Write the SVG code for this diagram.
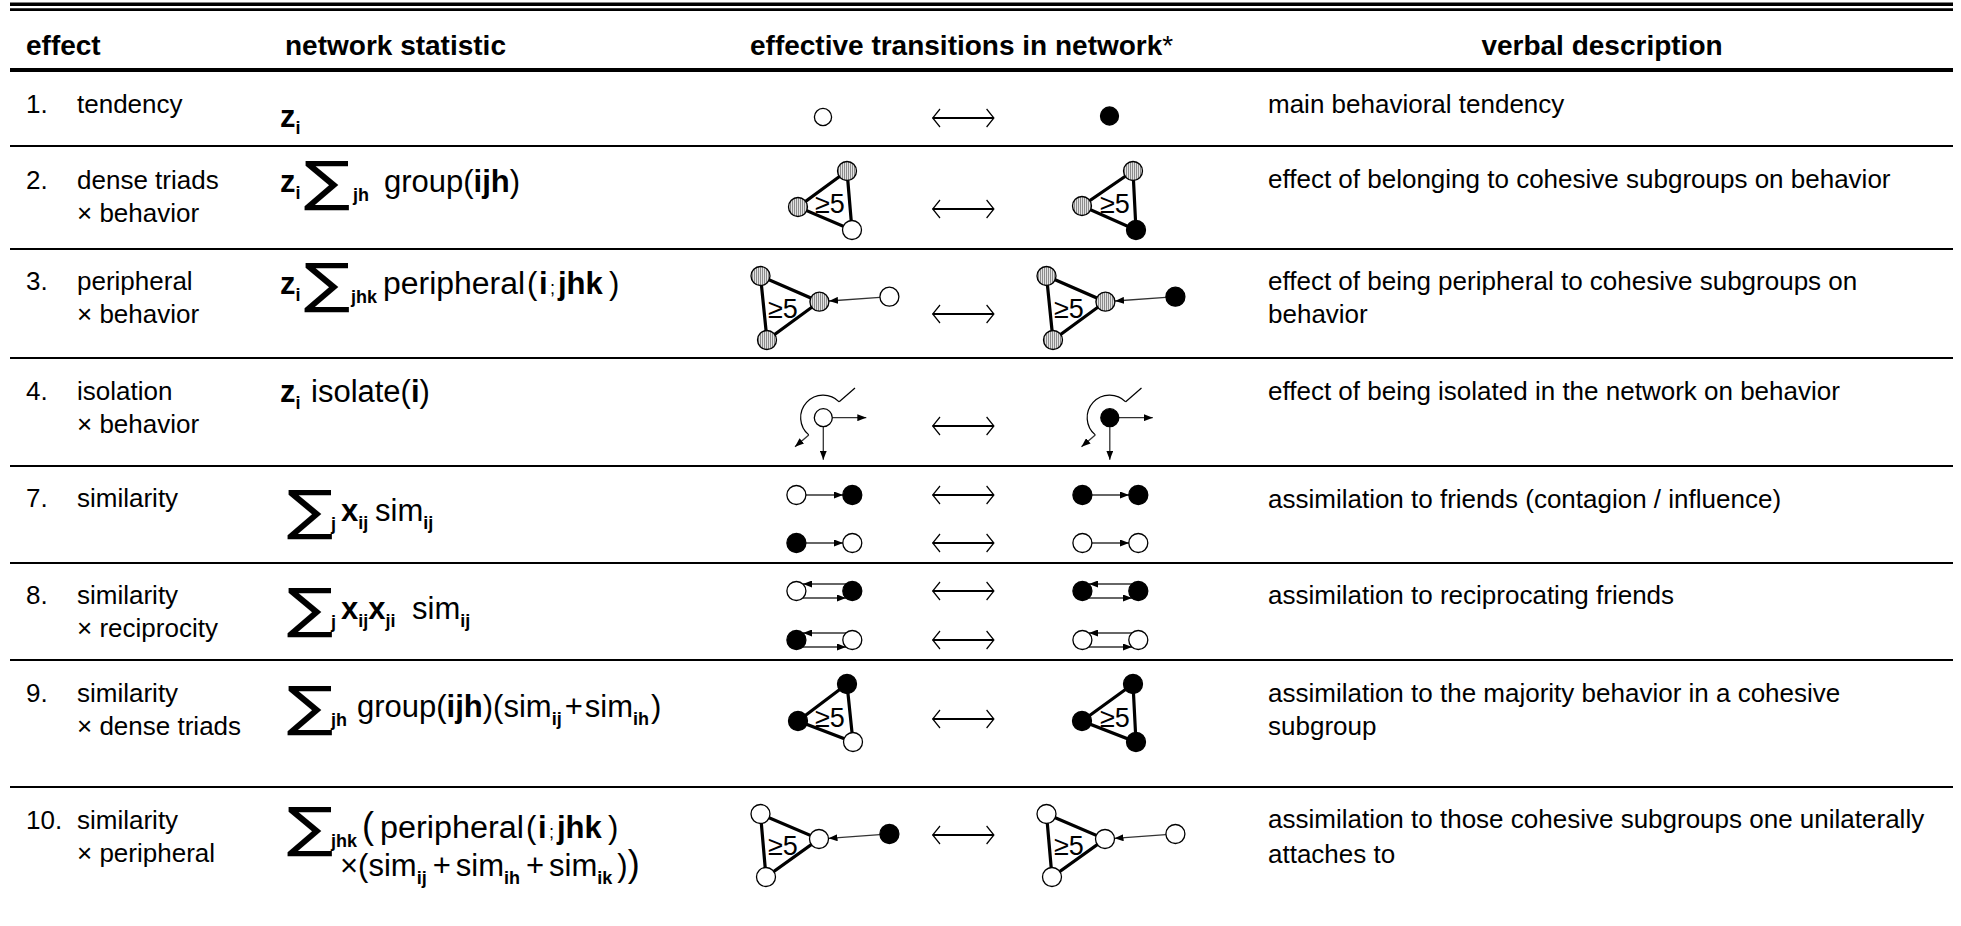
<svg xmlns="http://www.w3.org/2000/svg" width="1961" height="926" viewBox="0 0 1961 926">
<style>
text{font-family:"Liberation Sans",Arial,sans-serif;fill:#000}
.t{font-size:26px}
.h{font-size:28px;font-weight:bold}
.f{font-size:31px}
.b{font-weight:bold}
.sub{font-size:18px;font-weight:bold}
.sig{font-size:54px;font-family:"DejaVu Sans",sans-serif}
.g5{font-size:27px}
.rule{stroke:#000;stroke-width:2}
.tri{stroke:#000;stroke-width:3.2;fill:none}
.nd{stroke:#000;stroke-width:1.3}
.w{fill:#fff}
.k{fill:#000}
.hh{fill:url(#hatch)}
.ar{stroke:#333;stroke-width:1.3;fill:none;marker-end:url(#ah)}
.thin{stroke:#000;stroke-width:1.2;fill:none}
</style>
<defs>
<pattern id="hatch" width="2" height="2" patternUnits="userSpaceOnUse"><rect width="2" height="2" fill="#e2e2e2"/><rect width="1" height="2" fill="#8c8c8c"/></pattern>
<marker id="ah" markerWidth="9" markerHeight="7" refX="9" refY="3.5" orient="auto" markerUnits="userSpaceOnUse"><path d="M0,0 L9,3.5 L0,7 z" fill="#000"/></marker>
<g id="dbl"><line x1="-30.6" y1="0" x2="30.6" y2="0" stroke="#000" stroke-width="1.8"/><polyline points="-23.3,-9 -30.6,0 -23.3,9" class="thin"/><polyline points="23.3,-9 30.6,0 23.3,9" class="thin"/></g>
<g id="iso"><path d="M15.9,-15.9 A22.5,22.5 0 1 0 -14.5,17.2" class="thin"/><line x1="-14.5" y1="17.2" x2="-28.3" y2="29" class="ar"/><line x1="15.9" y1="-15.9" x2="31.7" y2="-29.7" class="thin"/><line x1="9" y1="0" x2="43" y2="0" class="ar"/><line x1="0" y1="9" x2="0" y2="42" class="ar"/></g>
</defs>
<rect width="1961" height="926" fill="#fff"/>
<g id="rules">
<line x1="10" y1="4.3" x2="1953" y2="4.3" stroke="#000" stroke-width="3.4"/>
<line x1="10" y1="9.6" x2="1953" y2="9.6" stroke="#000" stroke-width="2.6"/>
<line x1="10" y1="70" x2="1953" y2="70" stroke="#000" stroke-width="4"/>
<line x1="10" y1="146" x2="1953" y2="146" class="rule"/>
<line x1="10" y1="249" x2="1953" y2="249" class="rule"/>
<line x1="10" y1="358" x2="1953" y2="358" class="rule"/>
<line x1="10" y1="466" x2="1953" y2="466" class="rule"/>
<line x1="10" y1="563" x2="1953" y2="563" class="rule"/>
<line x1="10" y1="660" x2="1953" y2="660" class="rule"/>
<line x1="10" y1="787" x2="1953" y2="787" class="rule"/>
</g>
<g id="header">
<text class="h" x="26" y="55">effect</text>
<text class="h" x="285" y="55">network statistic</text>
<text class="h" x="750" y="55">effective transitions in network<tspan font-weight="normal">*</tspan></text>
<text class="h" x="1602" y="55" text-anchor="middle">verbal description</text>
</g>
<g id="effects">
<text class="t" x="26" y="113">1.</text><text class="t" x="77" y="113">tendency</text>
<text class="t" x="26" y="189">2.</text><text class="t" x="77" y="189">dense triads</text><text class="t" x="77" y="222">× behavior</text>
<text class="t" x="26" y="290">3.</text><text class="t" x="77" y="290">peripheral</text><text class="t" x="77" y="323">× behavior</text>
<text class="t" x="26" y="400">4.</text><text class="t" x="77" y="400">isolation</text><text class="t" x="77" y="433">× behavior</text>
<text class="t" x="26" y="507">7.</text><text class="t" x="77" y="507">similarity</text>
<text class="t" x="26" y="604">8.</text><text class="t" x="77" y="604">similarity</text><text class="t" x="77" y="637">× reciprocity</text>
<text class="t" x="26" y="702">9.</text><text class="t" x="77" y="702">similarity</text><text class="t" x="77" y="735">× dense triads</text>
<text class="t" x="26" y="829">10.</text><text class="t" x="77" y="829">similarity</text><text class="t" x="77" y="862">× peripheral</text>
</g>
<g id="statistics">
<text class="f" y="127"><tspan x="280" class="b">z</tspan><tspan class="sub" dy="7">i</tspan></text>

<text class="f" y="192"><tspan x="280" class="b">z</tspan><tspan class="sub" dy="7">i</tspan><tspan class="sub" x="353" dy="2">jh</tspan><tspan x="384" dy="-9">group(</tspan><tspan class="b">ijh</tspan><tspan>)</tspan></text>
<text class="sig" transform="translate(304,200) scale(1.28,1)">∑</text>

<text class="f" y="294"><tspan x="280" class="b">z</tspan><tspan class="sub" dy="7">i</tspan><tspan class="sub" x="351" dy="2">jhk</tspan><tspan x="383" dy="-9" textLength="142" lengthAdjust="spacingAndGlyphs">peripheral</tspan><tspan x="527">(</tspan><tspan class="b" x="539">i</tspan><tspan font-size="18" x="550">;</tspan><tspan class="b" x="558">jhk</tspan><tspan x="609">)</tspan></text>
<text class="sig" transform="translate(304,302) scale(1.28,1)">∑</text>

<text class="f" y="402"><tspan x="280" class="b">z</tspan><tspan class="sub" dy="7">i</tspan><tspan x="311" dy="-7">isolate(</tspan><tspan class="b">i</tspan><tspan>)</tspan></text>

<text class="f" y="521"><tspan class="sub" x="331" dy="9">j</tspan><tspan class="b" x="341" dy="-9">x</tspan><tspan class="sub" dy="8">ij</tspan><tspan x="375" dy="-8">sim</tspan><tspan class="sub" dy="8">ij</tspan></text>
<text class="sig" transform="translate(287,529) scale(1.28,1)">∑</text>

<text class="f" y="619"><tspan class="sub" x="331" dy="9">j</tspan><tspan class="b" x="341" dy="-9">x</tspan><tspan class="sub" dy="8">ij</tspan><tspan class="b" dy="-8">x</tspan><tspan class="sub" dy="8">ji</tspan><tspan x="412" dy="-8">sim</tspan><tspan class="sub" dy="8">ij</tspan></text>
<text class="sig" transform="translate(287,627) scale(1.28,1)">∑</text>

<text class="f" y="717"><tspan class="sub" x="331" dy="9">jh</tspan><tspan x="357" dy="-9">group(</tspan><tspan class="b">ijh</tspan><tspan>)(sim</tspan><tspan class="sub" dy="8">ij</tspan><tspan dx="3" dy="-8">+</tspan><tspan dx="2">sim</tspan><tspan class="sub" dy="8">ih</tspan><tspan dx="2" dy="-8">)</tspan></text>
<text class="sig" transform="translate(287,725) scale(1.28,1)">∑</text>

<text class="f" y="838"><tspan class="sub" x="331" dy="9">jhk</tspan><tspan x="362" dy="-9" font-size="36">(</tspan><tspan x="380" textLength="144" lengthAdjust="spacingAndGlyphs">peripheral</tspan><tspan x="526">(</tspan><tspan class="b" x="538">i</tspan><tspan font-size="18" x="549">;</tspan><tspan class="b" x="557">jhk</tspan><tspan x="608">)</tspan></text>
<text class="sig" transform="translate(287,846) scale(1.28,1)">∑</text>
<text class="f" y="876"><tspan x="340">×</tspan><tspan>(sim</tspan><tspan class="sub" dy="8">ij</tspan><tspan dx="6" dy="-8">+</tspan><tspan dx="5">sim</tspan><tspan class="sub" dy="8">ih</tspan><tspan dx="6" dy="-8">+</tspan><tspan dx="5">sim</tspan><tspan class="sub" dy="8">ik</tspan><tspan dx="5" dy="-8">)</tspan><tspan font-size="36">)</tspan></text>
</g>
<g id="connectors">
<use href="#dbl" x="963.3" y="118"/>
<use href="#dbl" x="963.3" y="209"/>
<use href="#dbl" x="963.3" y="314"/>
<use href="#dbl" x="963.3" y="426"/>
<use href="#dbl" x="963.3" y="495"/>
<use href="#dbl" x="963.3" y="543"/>
<use href="#dbl" x="963.3" y="591"/>
<use href="#dbl" x="963.3" y="640"/>
<use href="#dbl" x="963.3" y="719"/>
<use href="#dbl" x="963.3" y="835"/>
</g>
<g id="r1-left"><circle cx="823" cy="117" r="8.6" class="nd w"/></g>
<g id="r1-right"><circle cx="1109.5" cy="116" r="9" class="nd k"/></g>
<g id="r2-left">
<polygon points="847,171 798,207 852,230" class="tri"/>
<circle cx="847" cy="171" r="9.5" class="nd hh"/><circle cx="798" cy="207" r="9.5" class="nd hh"/><circle cx="852" cy="230" r="9.5" class="nd w"/>
<text class="g5" x="815" y="213">≥5</text>
</g>
<g id="r2-right">
<polygon points="1133,171 1082,206 1136,230" class="tri"/>
<circle cx="1133" cy="171" r="9.5" class="nd hh"/><circle cx="1082" cy="206" r="9.5" class="nd hh"/><circle cx="1136" cy="230" r="9.5" class="nd k"/>
<text class="g5" x="1100" y="213">≥5</text>
</g>
<g id="r3-left">
<polygon points="760.5,276 819.4,301.7 767,340" class="tri"/>
<line x1="879.9" y1="297.4" x2="829" y2="301" class="ar"/>
<circle cx="760.5" cy="276" r="9.5" class="nd hh"/><circle cx="819.4" cy="301.7" r="9.5" class="nd hh"/><circle cx="767" cy="340" r="9.5" class="nd hh"/><circle cx="889.4" cy="296.7" r="9.5" class="nd w"/>
<text class="g5" x="768" y="318">≥5</text>
</g>
<g id="r3-right">
<polygon points="1046.5,276 1105.4,301.7 1053,340" class="tri"/>
<line x1="1165.9" y1="297.4" x2="1115" y2="301" class="ar"/>
<circle cx="1046.5" cy="276" r="9.5" class="nd hh"/><circle cx="1105.4" cy="301.7" r="9.5" class="nd hh"/><circle cx="1053" cy="340" r="9.5" class="nd hh"/><circle cx="1175.4" cy="296.7" r="9.5" class="nd k"/>
<text class="g5" x="1054" y="318">≥5</text>
</g>
<g id="r4-left"><use href="#iso" x="823.3" y="417.7"/><circle cx="823.3" cy="417.7" r="9" class="nd w"/></g>
<g id="r4-right"><use href="#iso" x="1109.8" y="417.7"/><circle cx="1109.8" cy="417.7" r="9" class="nd k"/></g>
<g id="r7-left">
<line x1="805.7" y1="495" x2="843" y2="495" class="ar"/><circle cx="796.4" cy="495" r="9.5" class="nd w"/><circle cx="852.3" cy="495" r="9.5" class="nd k"/>
<line x1="805.7" y1="543" x2="843" y2="543" class="ar"/><circle cx="796.4" cy="543" r="9.5" class="nd k"/><circle cx="852.3" cy="543" r="9.5" class="nd w"/>
</g>
<g id="r7-right">
<line x1="1091.7" y1="495" x2="1129" y2="495" class="ar"/><circle cx="1082.4" cy="495" r="9.5" class="nd k"/><circle cx="1138.3" cy="495" r="9.5" class="nd k"/>
<line x1="1091.7" y1="543" x2="1129" y2="543" class="ar"/><circle cx="1082.4" cy="543" r="9.5" class="nd w"/><circle cx="1138.3" cy="543" r="9.5" class="nd w"/>
</g>
<g id="r8-left">
<line x1="846" y1="584" x2="803" y2="584" class="ar"/><line x1="803" y1="598" x2="846" y2="598" class="ar"/><circle cx="796.4" cy="591" r="9.5" class="nd w"/><circle cx="852.3" cy="591" r="9.5" class="nd k"/>
<line x1="846" y1="633" x2="803" y2="633" class="ar"/><line x1="803" y1="647" x2="846" y2="647" class="ar"/><circle cx="796.4" cy="640" r="9.5" class="nd k"/><circle cx="852.3" cy="640" r="9.5" class="nd w"/>
</g>
<g id="r8-right">
<line x1="1132" y1="584" x2="1089" y2="584" class="ar"/><line x1="1089" y1="598" x2="1132" y2="598" class="ar"/><circle cx="1082.4" cy="591" r="9.5" class="nd k"/><circle cx="1138.3" cy="591" r="9.5" class="nd k"/>
<line x1="1132" y1="633" x2="1089" y2="633" class="ar"/><line x1="1089" y1="647" x2="1132" y2="647" class="ar"/><circle cx="1082.4" cy="640" r="9.5" class="nd w"/><circle cx="1138.3" cy="640" r="9.5" class="nd w"/>
</g>
<g id="r9-left">
<polygon points="847,684 798,721 853,742" class="tri"/>
<circle cx="847" cy="684" r="9.5" class="nd k"/><circle cx="798" cy="721" r="9.5" class="nd k"/><circle cx="853" cy="742" r="9.5" class="nd w"/>
<text class="g5" x="815" y="727">≥5</text>
</g>
<g id="r9-right">
<polygon points="1133,684 1082,721 1136,742" class="tri"/>
<circle cx="1133" cy="684" r="9.5" class="nd k"/><circle cx="1082" cy="721" r="9.5" class="nd k"/><circle cx="1136" cy="742" r="9.5" class="nd k"/>
<text class="g5" x="1100" y="727">≥5</text>
</g>
<g id="r10-left">
<polygon points="760.5,814 819,839 766,877" class="tri"/>
<line x1="879.9" y1="834.7" x2="828.5" y2="838.3" class="ar"/>
<circle cx="760.5" cy="814" r="9.5" class="nd w"/><circle cx="819" cy="839" r="9.5" class="nd w"/><circle cx="766" cy="877" r="9.5" class="nd w"/><circle cx="889.4" cy="834" r="9.5" class="nd k"/>
<text class="g5" x="768" y="855">≥5</text>
</g>
<g id="r10-right">
<polygon points="1046.5,814 1105,839 1052,877" class="tri"/>
<line x1="1165.9" y1="834.7" x2="1114.5" y2="838.3" class="ar"/>
<circle cx="1046.5" cy="814" r="9.5" class="nd w"/><circle cx="1105" cy="839" r="9.5" class="nd w"/><circle cx="1052" cy="877" r="9.5" class="nd w"/><circle cx="1175.4" cy="834" r="9.5" class="nd w"/>
<text class="g5" x="1054" y="855">≥5</text>
</g>
<g id="descriptions">
<text class="t" x="1268" y="113">main behavioral tendency</text>
<text class="t" x="1268" y="188">effect of belonging to cohesive subgroups on behavior</text>
<text class="t" x="1268" y="290">effect of being peripheral to cohesive subgroups on</text>
<text class="t" x="1268" y="323">behavior</text>
<text class="t" x="1268" y="400">effect of being isolated in the network on behavior</text>
<text class="t" x="1268" y="508">assimilation to friends (contagion / influence)</text>
<text class="t" x="1268" y="604">assimilation to reciprocating friends</text>
<text class="t" x="1268" y="702">assimilation to the majority behavior in a cohesive</text>
<text class="t" x="1268" y="735">subgroup</text>
<text class="t" x="1268" y="828">assimilation to those cohesive subgroups one unilaterally</text>
<text class="t" x="1268" y="863">attaches to</text>
</g>
</svg>
